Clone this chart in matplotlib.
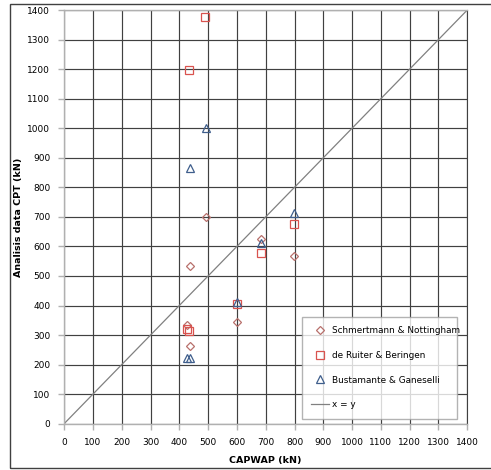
import matplotlib
matplotlib.use("Agg")
import matplotlib.pyplot as plt
from matplotlib.patches import Rectangle

# CAPWAP capacity (kN) vs CPT-based capacity (kN) for three methods
schm_x = [428, 436, 436, 492, 599, 683, 798]
schm_y = [335, 262, 534, 698, 345, 624, 567]

ruiter_x = [428, 434, 435, 490, 599, 683, 798]
ruiter_y = [320, 315, 1197, 1375, 404, 579, 676]

busta_x = [427, 436, 436, 492, 599, 683, 798]
busta_y = [222, 222, 866, 1000, 413, 612, 712]

ticks = list(range(0, 1401, 100))
line_xy = [0, 1400]

fig = plt.figure(figsize=(4.91, 4.70), dpi=100)
ax = fig.add_axes([0.1306, 0.0985, 0.8211, 0.8802])

# outer chart-area frame
fig.patches.append(Rectangle((10 / 491, 1 - 468 / 470), 1.2, (468 - 4) / 470,
                             transform=fig.transFigure, fill=False,
                             edgecolor="#404040", linewidth=1.0, zorder=0))

ax.set_xlim(0, 1400)
ax.set_ylim(0, 1400)
ax.set_xticks(ticks)
ax.set_yticks(ticks)
ax.grid(True, color="#404040", linewidth=0.85)
ax.set_axisbelow(True)
for side in ["left", "bottom", "top"]:
    ax.spines[side].set_color("#b0b0b0")
    ax.spines[side].set_linewidth(1.0)
ax.spines["right"].set_color("#404040")
ax.tick_params(axis="both", length=4, width=1.0, color="#b0b0b0",
               labelsize=6.5, pad=6)

ax.plot(schm_x, schm_y, linestyle="none", marker="D", markersize=4.3,
        markerfacecolor="none", markeredgecolor="#b8706c", markeredgewidth=0.9,
        label="Schmertmann & Nottingham", zorder=3)
ax.plot(ruiter_x, ruiter_y, linestyle="none", marker="s", markersize=6,
        markerfacecolor="none", markeredgecolor="#d9534f", markeredgewidth=0.9,
        label="de Ruiter & Beringen", zorder=3)
ax.plot(busta_x, busta_y, linestyle="none", marker="^", markersize=6,
        markerfacecolor="none", markeredgecolor="#3f5e8c", markeredgewidth=0.9,
        label="Bustamante & Ganeselli", zorder=3)
ax.plot(line_xy, line_xy, color="#808080", linewidth=0.9, label="x = y", zorder=2)

ax.set_xlabel("CAPWAP (kN)", fontsize=6.8, fontweight="bold", labelpad=7)
ax.set_ylabel("Analisis data CPT (kN)", fontsize=6.8, fontweight="bold", labelpad=3)

leg = ax.legend(loc="lower left", bbox_to_anchor=(0.578, 0.001, 0.408, 0.2335),
                mode="expand", fontsize=6.4, frameon=True, fancybox=False,
                borderpad=1.1, labelspacing=1.75, handlelength=2.0,
                handletextpad=0.3, markerscale=0.85)
leg.get_frame().set_edgecolor("#a0a0a0")
leg.get_frame().set_linewidth(1.0)

fig.savefig("out.png", dpi=100)
